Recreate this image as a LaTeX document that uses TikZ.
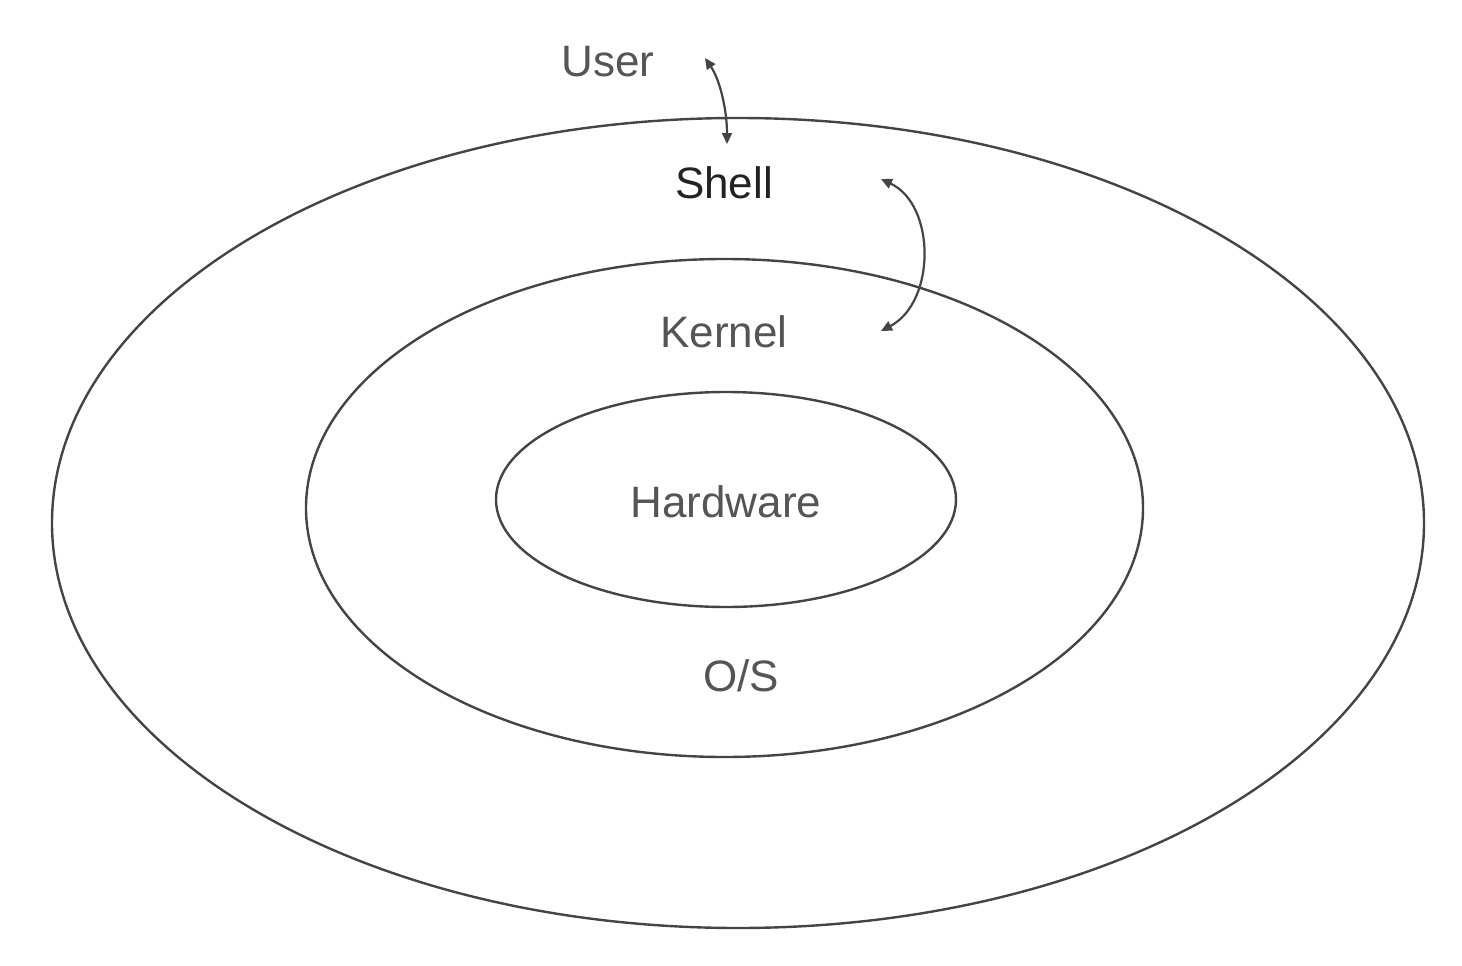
\documentclass[tikz,border=0pt]{standalone}
\usepackage{fontspec}
\setmainfont{Liberation Sans}
\usetikzlibrary{arrows.meta}
\definecolor{linec}{HTML}{444444}
\definecolor{textc}{HTML}{555555}
\definecolor{darkt}{HTML}{222222}
\begin{document}
\begin{tikzpicture}[x=1pt,y=-1pt,
  ring/.style={draw=linec,line width=2.4pt},
  lbl/.style={font=\fontsize{44}{50}\selectfont,text=textc,inner sep=0pt},
  conn/.style={draw=linec,line width=2.2pt,{Triangle[length=11pt,width=10pt]}-{Triangle[length=11pt,width=10pt]}}]
\useasboundingbox[fill=white] (0,0) rectangle (1462,966);
\draw[ring] (738,523) ellipse [x radius=686,y radius=405];
\draw[ring] (724.5,508) ellipse [x radius=418.5,y radius=249];
\draw[ring] (726,499.5) ellipse [x radius=230,y radius=107.5];
\node[lbl] (user) at (608,62) {User};
\node[lbl,text=darkt] (shell) at (724,183) {Shell};
\node[lbl] (kernel) at (724,332) {Kernel};
\node[lbl] (hw) at (726,502) {Hardware};
\node[lbl] (os) at (741,676) {O/S};
\coordinate (ua) at (705,58);
\coordinate (sa) at (727,144);
\coordinate (sb) at (881,179);
\coordinate (kb) at (881,331);
\draw[conn] (ua) .. controls (720,80) and (727,110) .. (sa);
\draw[conn] (sb) .. controls (936,205) and (936,302) .. (kb);
\end{tikzpicture}
\end{document}
